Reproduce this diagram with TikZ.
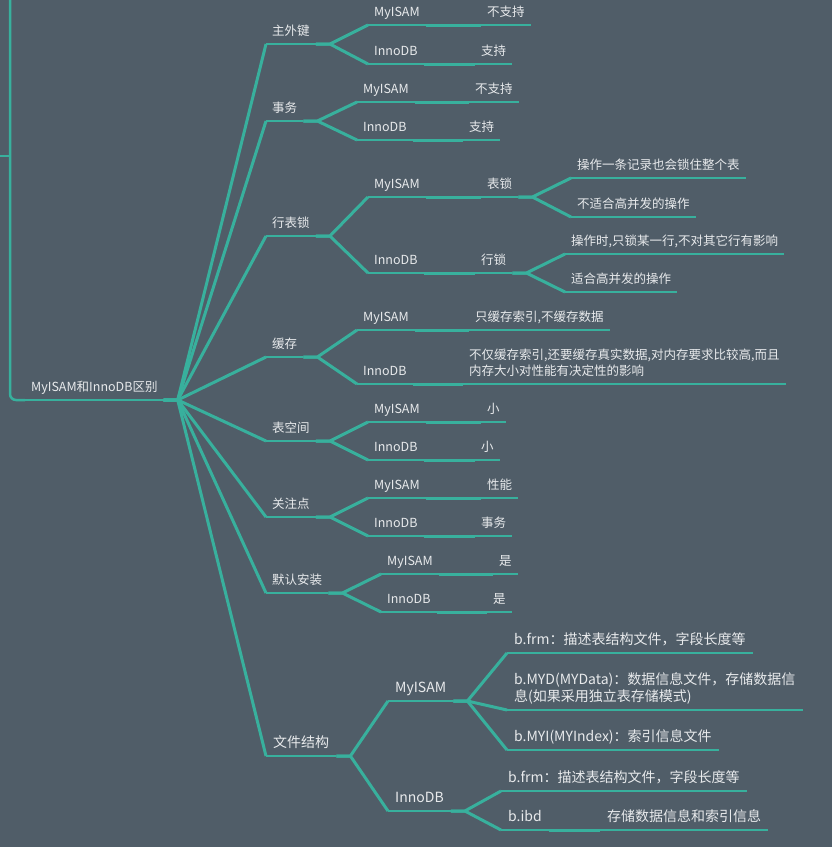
\documentclass[tikz,border=0pt]{standalone}
\usepackage{fontspec}
\setmainfont{Noto Sans CJK SC}
\definecolor{bgcol}{RGB}{80,93,104}
\definecolor{linecol}{RGB}{56,176,157}
\definecolor{txtcol}{RGB}{232,234,236}
\tikzset{
  topic/.style={anchor=south west, text=txtcol, inner xsep=6pt, inner ysep=6pt,
    text depth=2.3pt, font=\fontsize{12.5}{16}\selectfont},
  bigtopic/.style={topic, inner xsep=7pt, font=\fontsize{14}{17}\selectfont},
  uline/.style={draw=linecol, line width=1.2pt},
  link/.style={draw=linecol, line width=3pt, line join=round},
}
\begin{document}
\begin{tikzpicture}[x=1pt,y=-1pt]
  \fill[bgcol] (0,0) rectangle (832,847);
  \useasboundingbox (0,0) rectangle (832,847);
  % root
  \node[topic] (rt) at (25,400) {MyISAM和InnoDB区别};
  \coordinate (up) at (10,-6);
  \coordinate (left) at (-2,156);
  % first level
  \node[topic] (pk) at (266,44) {主外键};
  \node[topic] (tx) at (266,121) {事务};
  \node[topic] (lk) at (266,236) {行表锁};
  \node[topic] (ch) at (266,357) {缓存};
  \node[topic] (ts) at (266,441) {表空间};
  \node[topic] (fo) at (266,517) {关注点};
  \node[topic] (di) at (266,593) {默认安装};
  \node[bigtopic] (fs) at (266,756) {文件结构};
  % 主外键
  \node[topic] (pkM) at (368,25) {MyISAM};
  \node[topic] (pkMv) at (481,25) {不支持};
  \node[topic] (pkI) at (368,64) {InnoDB};
  \node[topic] (pkIv) at (475,64) {支持};
  % 事务
  \node[topic] (txM) at (357,102) {MyISAM};
  \node[topic] (txMv) at (469,102) {不支持};
  \node[topic] (txI) at (357,140) {InnoDB};
  \node[topic] (txIv) at (463,140) {支持};
  % 行表锁
  \node[topic] (lkM) at (368,197) {MyISAM};
  \node[topic] (lkMv) at (481,197) {表锁};
  \node[topic] (lkMa) at (571,178) {操作一条记录也会锁住整个表};
  \node[topic] (lkMb) at (571,217) {不适合高并发的操作};
  \node[topic] (lkI) at (368,273) {InnoDB};
  \node[topic] (lkIv) at (475,273) {行锁};
  \node[topic] (lkIa) at (565,254) {操作时,只锁某一行,不对其它行有影响};
  \node[topic] (lkIb) at (565,292) {适合高并发的操作};
  % 缓存
  \node[topic] (chM) at (357,330) {MyISAM};
  \node[topic] (chMv) at (469,330) {只缓存索引,不缓存数据};
  \node[topic] (chI) at (357,384) {InnoDB};
  \node[topic, align=left] (chIv) at (463,384)
    {不仅缓存索引,还要缓存真实数据,对内存要求比较高,而且\\内存大小对性能有决定性的影响};
  % 表空间
  \node[topic] (tsM) at (368,422) {MyISAM};
  \node[topic] (tsMv) at (481,422) {小};
  \node[topic] (tsI) at (368,460) {InnoDB};
  \node[topic] (tsIv) at (475,460) {小};
  % 关注点
  \node[topic] (foM) at (368,498) {MyISAM};
  \node[topic] (foMv) at (481,498) {性能};
  \node[topic] (foI) at (368,536) {InnoDB};
  \node[topic] (foIv) at (475,536) {事务};
  % 默认安装
  \node[topic] (diM) at (381,574) {MyISAM};
  \node[topic] (diMv) at (493,574) {是};
  \node[topic] (diI) at (381,612) {InnoDB};
  \node[topic] (diIv) at (487,612) {是};
  % 文件结构
  \node[bigtopic] (fsM) at (388,701) {MyISAM};
  \node[bigtopic] (fsMa) at (507,653) {b.frm：描述表结构文件，字段长度等};
  \node[bigtopic, align=left] (fsMb) at (507,710)
    {b.MYD(MYData)：数据信息文件，存储数据信\\息(如果采用独立表存储模式)};
  \node[bigtopic] (fsMc) at (507,750) {b.MYI(MYIndex)：索引信息文件};
  \node[bigtopic] (fsI) at (388,811) {InnoDB};
  \node[bigtopic] (fsIa) at (501,791) {b.frm：描述表结构文件，字段长度等};
  \node[bigtopic] (fsIb) at (501,830) {b.ibd};
  \node[bigtopic] (fsIbv) at (600,830) {存储数据信息和索引信息};
  % underlines
  \foreach \n in {rt,pk,tx,lk,ch,ts,fo,di,fs,pkM,pkMv,pkI,pkIv,txM,txMv,txI,txIv,
      lkM,lkMv,lkMa,lkMb,lkI,lkIv,lkIa,lkIb,chM,chMv,chI,chIv,tsM,tsMv,tsI,tsIv,
      foM,foMv,foI,foIv,diM,diMv,diI,diIv,fsM,fsMa,fsMb,fsMc,fsI,fsIa,fsIb,fsIbv}
    \draw[uline] (\n.south west) -- (\n.south east);
  % connectors
  \draw[link, line width=2.5pt, rounded corners=6pt] (up) -- (up |- rt.south) -- (rt.south west);
  \draw[link, line width=2.5pt] (left) -- (up |- left);
  \foreach \c in {pk,tx,lk,ch,ts,fo,di,fs}
    \draw[link] (rt.south east) -- ++(14,0) -- (\c.south west);
  \foreach \p/\c in {pk/pkM,pk/pkI,tx/txM,tx/txI,lk/lkM,lk/lkI,ch/chM,ch/chI,
      ts/tsM,ts/tsI,fo/foM,fo/foI,di/diM,di/diI,fs/fsM,fs/fsI,
      lkMv/lkMa,lkMv/lkMb,lkIv/lkIa,lkIv/lkIb,fsM/fsMa,fsM/fsMb,fsM/fsMc,
      fsI/fsIa,fsI/fsIb}
    \draw[link] (\p.south east) -- ++(14,0) -- (\c.south west);
  \foreach \p/\c in {pkM/pkMv,pkI/pkIv,txM/txMv,txI/txIv,lkM/lkMv,lkI/lkIv,
      chM/chMv,chI/chIv,tsM/tsMv,tsI/tsIv,foM/foMv,foI/foIv,diM/diMv,diI/diIv,
      fsIb/fsIbv}
    \draw[link] (\p.south east) -- (\c.south west);
\end{tikzpicture}
\end{document}
